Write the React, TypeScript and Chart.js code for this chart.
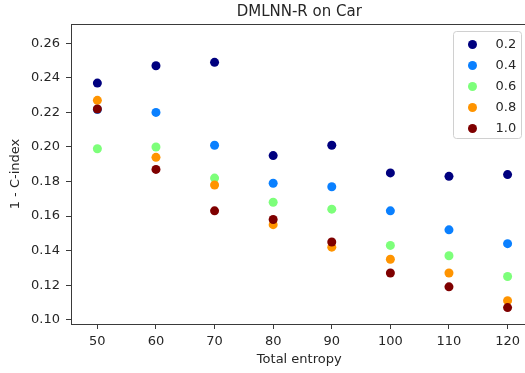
import React, { useEffect, useRef } from "react";
import { Chart, registerables } from "chart.js";

Chart.register(...registerables);

const TITLE = "DMLNN-R on Car";
const X_LABEL = "Total entropy";
const Y_LABEL = "1 - C-index";
const ENTROPY = [50, 60, 70, 80, 90, 100, 110, 120];
const X_TICKS = [50, 60, 70, 80, 90, 100, 110, 120];
const Y_TICKS = [0.1, 0.12, 0.14, 0.16, 0.18, 0.2, 0.22, 0.24, 0.26];
const SERIES_LABELS = ["0.2", "0.4", "0.6", "0.8", "1.0"];
const SERIES_COLORS = ["#00007f", "#0a80ff", "#7dff7a", "#ff9400", "#7f0000"];
const S_02 = [0.237, 0.247, 0.249, 0.195, 0.201, 0.185, 0.183, 0.184];
const S_04 = [0.2217, 0.22, 0.201, 0.179, 0.177, 0.163, 0.152, 0.144];
const S_06 = [0.199, 0.2, 0.182, 0.168, 0.164, 0.143, 0.137, 0.125];
const S_08 = [0.227, 0.194, 0.178, 0.155, 0.142, 0.135, 0.127, 0.111];
const S_10 = [0.222, 0.187, 0.163, 0.158, 0.145, 0.127, 0.119, 0.107];
const SERIES = [S_02, S_04, S_06, S_08, S_10];

const FONT = "'DejaVu Sans', sans-serif";
const TEXT = "#262626";
const SPINE = "#3a3a3a";

const framePlugin = {
  id: "frameAndLegend",
  afterDraw(chart: any) {
    const { ctx, chartArea } = chart;
    const { left, right, top, bottom } = chartArea;
    ctx.save();
    ctx.strokeStyle = SPINE;
    ctx.lineWidth = 1;
    ctx.strokeRect(Math.round(left) + 0.5, Math.round(top) + 0.5, Math.round(right - left), Math.round(bottom - top));
    ctx.fillStyle = TEXT;
    ctx.font = `15px ${FONT}`;
    ctx.textAlign = "center";
    ctx.textBaseline = "middle";
    ctx.fillText(TITLE, (left + right) / 2, top - 11.5);
    const bx = 453.5;
    const by = top + 7.5;
    const bw = 68;
    const bh = 107;
    ctx.beginPath();
    ctx.roundRect(bx, by, bw, bh, 3);
    ctx.fillStyle = "rgba(255,255,255,0.85)";
    ctx.fill();
    ctx.strokeStyle = "#d0d0d0";
    ctx.stroke();
    ctx.font = `13px ${FONT}`;
    ctx.textAlign = "left";
    chart.data.datasets.forEach((ds: any, i: number) => {
      const y = by + 13 + i * 21;
      ctx.beginPath();
      ctx.arc(bx + 19, y, 4.5, 0, Math.PI * 2);
      ctx.fillStyle = ds.backgroundColor;
      ctx.fill();
      ctx.fillStyle = TEXT;
      ctx.fillText(ds.label, bx + 42, y);
    });
    ctx.restore();
  },
};

export default function App() {
  const ref = useRef<HTMLCanvasElement | null>(null);
  useEffect(() => {
    if (!ref.current) return;
    const chart = new Chart(ref.current, {
      type: "scatter",
      data: {
        datasets: SERIES.map((vals, i) => ({
          label: SERIES_LABELS[i],
          data: ENTROPY.map((x, j) => ({ x, y: vals[j] })),
          backgroundColor: SERIES_COLORS[i],
          borderColor: SERIES_COLORS[i],
          pointRadius: 4.5,
          pointBorderWidth: 0,
          order: SERIES.length - i,
        })),
      },
      options: {
        animation: false,
        responsive: false,
        maintainAspectRatio: false,
        devicePixelRatio: 1,
        layout: { padding: { left: 0, top: 24, right: 1, bottom: 0 } },
        plugins: {
          legend: { display: false },
          tooltip: { enabled: false },
          title: { display: false },
        },
        scales: {
          x: {
            type: "linear",
            min: 45.5,
            max: 123.4,
            afterBuildTicks: (s: any) => {
              s.ticks = X_TICKS.map((v) => ({ value: v }));
            },
            afterFit: (s: any) => {
              s.height = 49;
              s.paddingLeft = 0;
              s.paddingRight = 0;
            },
            grid: { display: true, drawOnChartArea: false, drawTicks: true, tickLength: 5, color: SPINE },
            border: { display: true, color: SPINE },
            ticks: { color: TEXT, font: { family: FONT, size: 13 }, padding: 5, maxRotation: 0 },
            title: {
              display: true,
              text: X_LABEL,
              color: TEXT,
              font: { family: FONT, size: 13 },
              padding: { top: 0, bottom: 6 },
            },
          },
          y: {
            type: "linear",
            min: 0.0975,
            max: 0.2712,
            afterBuildTicks: (s: any) => {
              s.ticks = Y_TICKS.map((v) => ({ value: v }));
            },
            afterFit: (s: any) => {
              s.width = 71;
              s.paddingTop = 0;
              s.paddingBottom = 0;
            },
            grid: { display: true, drawOnChartArea: false, drawTicks: true, tickLength: 5, color: SPINE },
            border: { display: true, color: SPINE },
            ticks: {
              color: TEXT,
              font: { family: FONT, size: 13 },
              padding: 6,
              callback: (v: any) => Number(v).toFixed(2),
            },
            title: {
              display: true,
              text: Y_LABEL,
              color: TEXT,
              font: { family: FONT, size: 13 },
              padding: { top: 8, bottom: 0 },
            },
          },
        },
      },
      plugins: [framePlugin],
    });
    return () => chart.destroy();
  }, []);
  return (
    <div style={{ position: "fixed", left: 0, top: 0, width: 525, height: 373, overflow: "hidden", background: "#fff" }}>
      <canvas ref={ref} width={532} height={373} style={{ display: "block", width: 532, height: 373 }} />
    </div>
  );
}
